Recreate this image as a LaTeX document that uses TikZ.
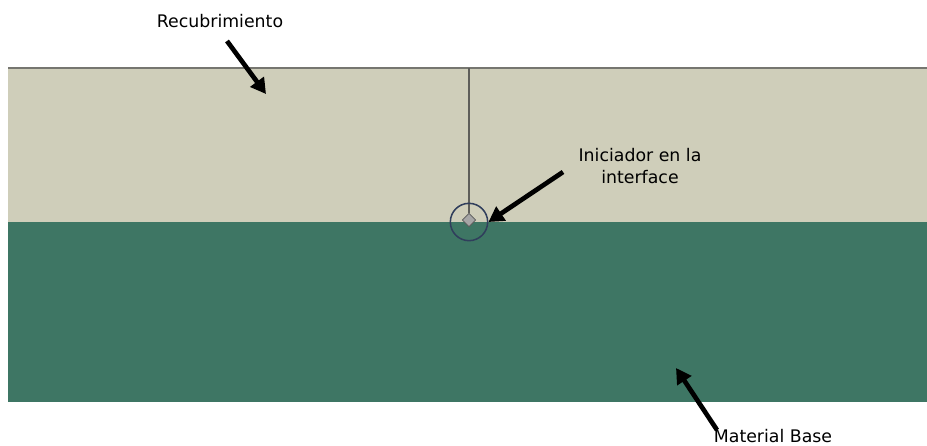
\documentclass[tikz,border=0pt]{standalone}
\usepackage{fontspec}
\setmainfont{DejaVu Sans}
\usepackage{tikz}
\usetikzlibrary{arrows.meta, backgrounds}
\definecolor{coatColor}{RGB}{207,206,186}
\definecolor{baseColor}{RGB}{62,118,100}
\definecolor{lineGray}{RGB}{118,118,112}
\definecolor{ringBlue}{RGB}{48,62,92}

\begin{document}
\begin{tikzpicture}[x=0.03cm, y=-0.03cm, font=\fontsize{14.8}{18}\selectfont,
	pointer/.style={line width=4pt, -{Triangle[length=13pt, width=14pt]}, black}]
	\useasboundingbox (0,0) rectangle (927,445);
	
	% layers
	\fill[coatColor] (8,68) rectangle (927,222);
	\fill[baseColor] (8,222) rectangle (927,402);
	\draw[lineGray, line width=1.6pt] (8,68) -- (927,68);
	
	% crack and initiator
	\coordinate (crackTop) at (469,68);
	\node (initiator) at (469,220) [draw=black!65, fill=black!35, rectangle, minimum size=8pt, inner sep=0pt, line width=0.6pt, rotate=45] {};
	\draw[lineGray!80!black, line width=1.3pt] (crackTop) -- (initiator);
	\node (ring) at (469,222) [circle, draw=ringBlue, line width=1.3pt, minimum size=1.12cm] {};
	
	% labels
	\node (coatLabel) at (220,21) {Recubrimiento};
	\node (initLabel) at (640,166) [align=center] {Iniciador en la\\interface};
	\node (baseLabel) at (773,436) {Material Base};
	
	\coordinate (coatStart) at (227,41);
	\coordinate (coatTip) at (266,94);
	\coordinate (initStart) at (563,172);
	\coordinate (baseStart) at (717,430);
	\coordinate (baseTip) at (676,368);
	
	\draw[pointer] (coatStart) -- (coatTip);
	\draw[pointer] (initStart) -- (ring.east);
	\draw[pointer] (baseStart) -- (baseTip);
\end{tikzpicture}
\end{document}
